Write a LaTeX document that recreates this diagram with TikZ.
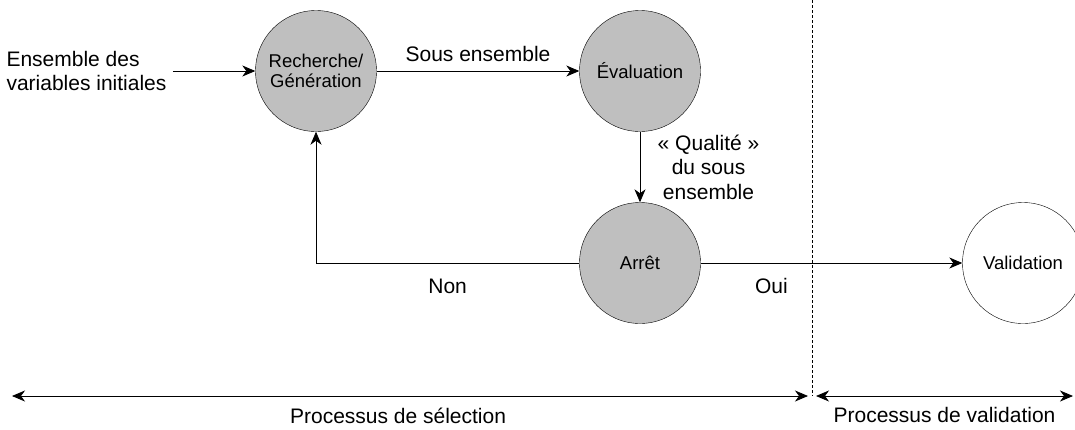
\documentclass[tikz,border=0pt]{standalone}
\usepackage{fontspec}
\setmainfont{Liberation Sans}
\usepackage{tikz}
\usetikzlibrary{shapes,arrows.meta,calc,positioning}
\tikzset{
  etat/.style={circle, draw=black, fill=black!25, minimum size=121pt, inner sep=0pt, align=center, font=\fontsize{18.5}{20}\selectfont},
  etat_v/.style={etat, fill=white},
  lbl/.style={align=center, font=\fontsize{21}{24.5}\selectfont},
  fleche/.style={-{Stealth[length=13pt,width=11pt,inset=4pt]}, line width=0.8pt},
  dblfleche/.style={{Stealth[length=13pt,width=11pt,inset=4pt]}-{Stealth[length=13pt,width=11pt,inset=4pt]}, line width=0.8pt}
}

\begin{document}
\begin{tikzpicture}[x=1pt,y=-1pt]
	\useasboundingbox (0,0) rectangle (1075,429);
	% etats
	\node [etat] (rech) at (316,71) {Recherche/\\Génération};
	\node [etat] (eval) at (640,71) {Évaluation};
	\node [etat] (arret) at (640,263) {Arrêt};
	\node [etat_v] (valid) at (1023,263) {Validation};
	\node [lbl, align=left, anchor=west] (entree) at (3,71) {Ensemble des\\variables initiales};
	\coordinate (coin) at (rech |- arret);

	% transitions
	\draw[fleche] ([xshift=3pt]entree.east) -- (rech);
	\draw[fleche] (rech) -- node[lbl, above=6pt] {Sous ensemble} (eval);
	\draw[fleche] (eval) -- node[lbl, right=14pt] {« Qualité »\\du sous\\ensemble} (arret);
	\draw[fleche] (arret) -- node[lbl, below=12pt] {Non} (coin) -- (rech);
	\draw[fleche] (arret) -- node[lbl, pos=0.27, below=12pt] {Oui} (valid);

	% separation des processus
	\coordinate (sep_haut) at (812,0);
	\coordinate (sep_bas) at (812,396);
	\draw[dashed, dash pattern=on 3pt off 2pt, line width=0.6pt] (sep_haut) -- (sep_bas);
	\coordinate (sel_g) at (12,396);
	\coordinate (sel_d) at (808,396);
	\coordinate (val_g) at (816,396);
	\coordinate (val_d) at (1073,396);
	\draw[dblfleche] (sel_g) -- node[lbl, pos=0.485, below=8pt] {Processus de sélection} (sel_d);
	\draw[dblfleche] (val_g) -- node[lbl, below=8pt] {Processus de validation} (val_d);
\end{tikzpicture}
\end{document}
